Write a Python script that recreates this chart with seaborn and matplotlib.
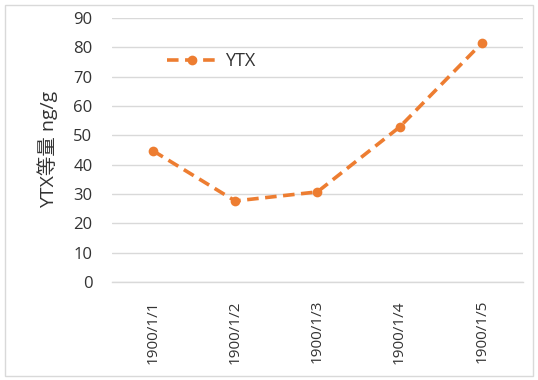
import matplotlib
matplotlib.use("Agg")
import matplotlib.pyplot as plt
import seaborn as sns
import pandas as pd
from matplotlib.patches import Rectangle

categories = ["1900/1/1", "1900/1/2", "1900/1/3", "1900/1/4", "1900/1/5"]
values = [44.7, 27.6, 30.7, 52.8, 81.4]
series_name = "YTX"
y_label = "YTX等量 ng/g"
y_ticks = [0, 10, 20, 30, 40, 50, 60, 70, 80, 90]

sns.set_style("white")
plt.rcParams['font.family'] = ['Open Sans', 'Noto Sans CJK SC', 'DejaVu Sans']

df = pd.DataFrame({"date": categories, "value": values, "series": series_name})

fig = plt.figure(figsize=(5.38, 3.8), dpi=100)
ax = fig.add_axes([0.208, 0.258, 0.764, 0.695])

dash = (0, (3.2, 1.8))
sns.lineplot(data=df, x="date", y="value", hue="series", palette=["#ED7D31"],
             marker="o", markersize=7, markeredgewidth=0, linewidth=2.6,
             dashes=False, sort=False, ax=ax)
for line in ax.lines:
    line.set_linestyle(dash)

ax.set_ylim(0, 90)
ax.set_yticks(y_ticks)
ax.set_xlim(-0.5, len(categories) - 0.5)
ax.yaxis.grid(True, color="#D9D9D9", linewidth=1)
ax.xaxis.grid(False)
for s in ["left", "right", "top"]:
    ax.spines[s].set_visible(False)
ax.spines["bottom"].set_color("#D9D9D9")
ax.spines["bottom"].set_linewidth(1)
ax.tick_params(axis="y", length=0, pad=14, labelsize=12, labelcolor="#333333")
ax.tick_params(axis="x", length=0, pad=13, labelsize=11, labelcolor="#333333", rotation=90)
ax.set_xlabel("")
ax.set_ylabel(y_label, fontsize=14, color="#333333")
ax.yaxis.set_label_coords(-0.13, 0.5)

handles, labels = ax.get_legend_handles_labels()
for h in handles:
    h.set_linestyle(dash)
ax.legend(handles, labels, loc="center left", bbox_to_anchor=(0.095, 0.835),
          frameon=False, fontsize=13, handlelength=2.8, handletextpad=0.4,
          labelcolor="#333333")

fig.patches.append(Rectangle((0.009, 0.01), 0.982, 0.978, transform=fig.transFigure,
                             fill=False, edgecolor="#D9D9D9", linewidth=1))

fig.savefig("out.png", dpi=100)
